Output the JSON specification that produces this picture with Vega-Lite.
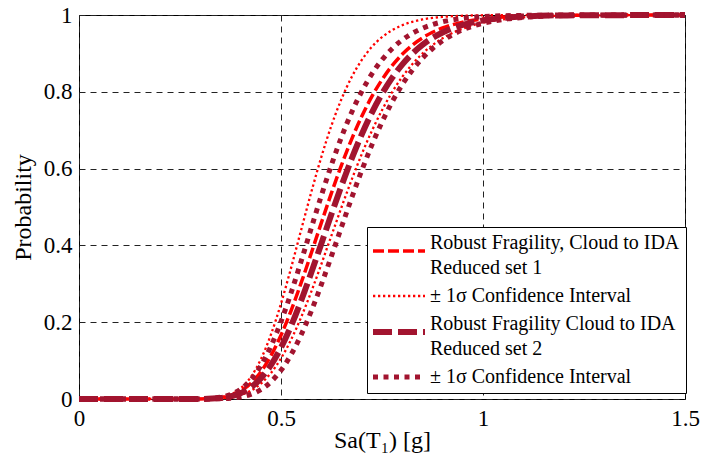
{
  "$schema": "https://vega.github.io/schema/vega-lite/v6.json",
  "width": 606,
  "height": 384,
  "autosize": {"type": "none"},
  "padding": {"left": 79, "top": 15, "right": 21, "bottom": 62},
  "background": "white",
  "config": {
    "font": "Liberation Serif",
    "view": {"stroke": "#000000", "strokeWidth": 1},
    "axis": {
      "labelFont": "Liberation Serif",
      "labelFontSize": 23,
      "labelColor": "#000000",
      "labelFlush": false,
      "titleFont": "Liberation Serif",
      "titleFontSize": 24,
      "titleFontWeight": "normal",
      "titleColor": "#000000",
      "domain": false,
      "ticks": false,
      "grid": true,
      "gridColor": "#222222",
      "gridDash": [6, 5],
      "gridWidth": 1
    },
    "style": {"guide-label": {"lineHeight": 25}},
    "legend": {
      "orient": "none",
      "legendX": 288,
      "legendY": 212,
      "strokeColor": "#000000",
      "fillColor": "#ffffff",
      "padding": 6,
      "symbolType": "M-1,0H4.2",
      "symbolSize": 400,
      "labelFont": "Liberation Serif",
      "labelFontSize": 20,
      "labelColor": "#000000",
      "labelLimit": 400,
      "labelOffset": 37,
      "rowPadding": 8
    }
  },
  "data": {
    "values": [
      {"s":"s1","c":"m","x":0,"p":0},{"s":"s1","c":"m","x":0.3,"p":0.0003},{"s":"s1","c":"m","x":0.35,"p":0.0038},{"s":"s1","c":"m","x":0.375,"p":0.0096},{"s":"s1","c":"m","x":0.4,"p":0.021},{"s":"s1","c":"m","x":0.425,"p":0.0406},{"s":"s1","c":"m","x":0.45,"p":0.0705},{"s":"s1","c":"m","x":0.475,"p":0.1124},{"s":"s1","c":"m","x":0.5,"p":0.166},{"s":"s1","c":"m","x":0.525,"p":0.2302},{"s":"s1","c":"m","x":0.55,"p":0.3029},{"s":"s1","c":"m","x":0.575,"p":0.3802},{"s":"s1","c":"m","x":0.6,"p":0.4594},{"s":"s1","c":"m","x":0.625,"p":0.5368},{"s":"s1","c":"m","x":0.65,"p":0.6099},{"s":"s1","c":"m","x":0.675,"p":0.6769},{"s":"s1","c":"m","x":0.7,"p":0.7363},{"s":"s1","c":"m","x":0.725,"p":0.7879},{"s":"s1","c":"m","x":0.75,"p":0.8315},{"s":"s1","c":"m","x":0.775,"p":0.868},{"s":"s1","c":"m","x":0.8,"p":0.8976},{"s":"s1","c":"m","x":0.825,"p":0.9214},{"s":"s1","c":"m","x":0.85,"p":0.9402},{"s":"s1","c":"m","x":0.875,"p":0.955},{"s":"s1","c":"m","x":0.9,"p":0.9663},{"s":"s1","c":"m","x":0.925,"p":0.9749},{"s":"s1","c":"m","x":0.95,"p":0.9815},{"s":"s1","c":"m","x":0.975,"p":0.9864},{"s":"s1","c":"m","x":1,"p":0.9901},{"s":"s1","c":"m","x":1.05,"p":0.9948},{"s":"s1","c":"m","x":1.1,"p":0.9973},{"s":"s1","c":"m","x":1.2,"p":0.9993},{"s":"s1","c":"m","x":1.5,"p":1},

      {"s":"c1","c":"lo","x":0,"p":0},{"s":"c1","c":"lo","x":0.3,"p":0.0002},{"s":"c1","c":"lo","x":0.35,"p":0.0039},{"s":"c1","c":"lo","x":0.375,"p":0.0114},{"s":"c1","c":"lo","x":0.4,"p":0.0275},{"s":"c1","c":"lo","x":0.425,"p":0.0568},{"s":"c1","c":"lo","x":0.45,"p":0.1031},{"s":"c1","c":"lo","x":0.475,"p":0.1675},{"s":"c1","c":"lo","x":0.5,"p":0.2486},{"s":"c1","c":"lo","x":0.525,"p":0.3416},{"s":"c1","c":"lo","x":0.55,"p":0.4408},{"s":"c1","c":"lo","x":0.575,"p":0.5387},{"s":"c1","c":"lo","x":0.6,"p":0.6308},{"s":"c1","c":"lo","x":0.625,"p":0.7126},{"s":"c1","c":"lo","x":0.65,"p":0.7818},{"s":"c1","c":"lo","x":0.675,"p":0.8385},{"s":"c1","c":"lo","x":0.7,"p":0.883},{"s":"c1","c":"lo","x":0.725,"p":0.917},{"s":"c1","c":"lo","x":0.75,"p":0.9422},{"s":"c1","c":"lo","x":0.775,"p":0.9604},{"s":"c1","c":"lo","x":0.8,"p":0.9733},{"s":"c1","c":"lo","x":0.825,"p":0.9823},{"s":"c1","c":"lo","x":0.85,"p":0.9884},{"s":"c1","c":"lo","x":0.875,"p":0.9925},{"s":"c1","c":"lo","x":0.9,"p":0.9951},{"s":"c1","c":"lo","x":0.925,"p":0.9969},{"s":"c1","c":"lo","x":0.95,"p":0.9981},{"s":"c1","c":"lo","x":0.975,"p":0.9988},{"s":"c1","c":"lo","x":1,"p":0.9993},{"s":"c1","c":"lo","x":1.05,"p":0.9997},{"s":"c1","c":"lo","x":1.1,"p":0.9999},{"s":"c1","c":"lo","x":1.2,"p":1},{"s":"c1","c":"lo","x":1.5,"p":1},

      {"s":"c1","c":"hi","x":0,"p":0},{"s":"c1","c":"hi","x":0.3,"p":0.0001},{"s":"c1","c":"hi","x":0.35,"p":0.0016},{"s":"c1","c":"hi","x":0.375,"p":0.0044},{"s":"c1","c":"hi","x":0.4,"p":0.0104},{"s":"c1","c":"hi","x":0.425,"p":0.0215},{"s":"c1","c":"hi","x":0.45,"p":0.04},{"s":"c1","c":"hi","x":0.475,"p":0.0677},{"s":"c1","c":"hi","x":0.5,"p":0.1058},{"s":"c1","c":"hi","x":0.525,"p":0.1546},{"s":"c1","c":"hi","x":0.55,"p":0.2133},{"s":"c1","c":"hi","x":0.575,"p":0.2797},{"s":"c1","c":"hi","x":0.6,"p":0.3516},{"s":"c1","c":"hi","x":0.625,"p":0.4259},{"s":"c1","c":"hi","x":0.65,"p":0.5},{"s":"c1","c":"hi","x":0.675,"p":0.5714},{"s":"c1","c":"hi","x":0.7,"p":0.638},{"s":"c1","c":"hi","x":0.725,"p":0.6985},{"s":"c1","c":"hi","x":0.75,"p":0.7521},{"s":"c1","c":"hi","x":0.775,"p":0.7989},{"s":"c1","c":"hi","x":0.8,"p":0.8387},{"s":"c1","c":"hi","x":0.825,"p":0.8718},{"s":"c1","c":"hi","x":0.85,"p":0.8993},{"s":"c1","c":"hi","x":0.875,"p":0.9216},{"s":"c1","c":"hi","x":0.9,"p":0.9394},{"s":"c1","c":"hi","x":0.925,"p":0.9535},{"s":"c1","c":"hi","x":0.95,"p":0.9646},{"s":"c1","c":"hi","x":0.975,"p":0.9733},{"s":"c1","c":"hi","x":1,"p":0.9799},{"s":"c1","c":"hi","x":1.05,"p":0.9888},{"s":"c1","c":"hi","x":1.1,"p":0.9939},{"s":"c1","c":"hi","x":1.2,"p":0.9982},{"s":"c1","c":"hi","x":1.5,"p":1},

      {"s":"s2","c":"m","x":0,"p":0},{"s":"s2","c":"m","x":0.3,"p":0.0002},{"s":"s2","c":"m","x":0.35,"p":0.0025},{"s":"s2","c":"m","x":0.375,"p":0.0066},{"s":"s2","c":"m","x":0.4,"p":0.015},{"s":"s2","c":"m","x":0.425,"p":0.0299},{"s":"s2","c":"m","x":0.45,"p":0.0537},{"s":"s2","c":"m","x":0.475,"p":0.0882},{"s":"s2","c":"m","x":0.5,"p":0.134},{"s":"s2","c":"m","x":0.525,"p":0.1905},{"s":"s2","c":"m","x":0.55,"p":0.2566},{"s":"s2","c":"m","x":0.575,"p":0.3292},{"s":"s2","c":"m","x":0.6,"p":0.4052},{"s":"s2","c":"m","x":0.625,"p":0.482},{"s":"s2","c":"m","x":0.65,"p":0.5561},{"s":"s2","c":"m","x":0.675,"p":0.6259},{"s":"s2","c":"m","x":0.7,"p":0.6894},{"s":"s2","c":"m","x":0.725,"p":0.7457},{"s":"s2","c":"m","x":0.75,"p":0.7947},{"s":"s2","c":"m","x":0.775,"p":0.8362},{"s":"s2","c":"m","x":0.8,"p":0.8708},{"s":"s2","c":"m","x":0.825,"p":0.8992},{"s":"s2","c":"m","x":0.85,"p":0.9221},{"s":"s2","c":"m","x":0.875,"p":0.9403},{"s":"s2","c":"m","x":0.9,"p":0.9546},{"s":"s2","c":"m","x":0.925,"p":0.9657},{"s":"s2","c":"m","x":0.95,"p":0.9743},{"s":"s2","c":"m","x":0.975,"p":0.9809},{"s":"s2","c":"m","x":1,"p":0.9858},{"s":"s2","c":"m","x":1.05,"p":0.9923},{"s":"s2","c":"m","x":1.1,"p":0.9959},{"s":"s2","c":"m","x":1.2,"p":0.9989},{"s":"s2","c":"m","x":1.5,"p":1},

      {"s":"c2","c":"lo","x":0,"p":0},{"s":"c2","c":"lo","x":0.3,"p":0.0003},{"s":"c2","c":"lo","x":0.35,"p":0.0044},{"s":"c2","c":"lo","x":0.375,"p":0.0115},{"s":"c2","c":"lo","x":0.4,"p":0.0255},{"s":"c2","c":"lo","x":0.425,"p":0.0496},{"s":"c2","c":"lo","x":0.45,"p":0.0865},{"s":"c2","c":"lo","x":0.475,"p":0.1372},{"s":"c2","c":"lo","x":0.5,"p":0.2016},{"s":"c2","c":"lo","x":0.525,"p":0.2767},{"s":"c2","c":"lo","x":0.55,"p":0.3594},{"s":"c2","c":"lo","x":0.575,"p":0.4452},{"s":"c2","c":"lo","x":0.6,"p":0.5301},{"s":"c2","c":"lo","x":0.625,"p":0.6101},{"s":"c2","c":"lo","x":0.65,"p":0.6829},{"s":"c2","c":"lo","x":0.675,"p":0.7469},{"s":"c2","c":"lo","x":0.7,"p":0.8012},{"s":"c2","c":"lo","x":0.725,"p":0.8466},{"s":"c2","c":"lo","x":0.75,"p":0.8832},{"s":"c2","c":"lo","x":0.775,"p":0.9123},{"s":"c2","c":"lo","x":0.8,"p":0.935},{"s":"c2","c":"lo","x":0.825,"p":0.9523},{"s":"c2","c":"lo","x":0.85,"p":0.9654},{"s":"c2","c":"lo","x":0.875,"p":0.9751},{"s":"c2","c":"lo","x":0.9,"p":0.9823},{"s":"c2","c":"lo","x":0.925,"p":0.9875},{"s":"c2","c":"lo","x":0.95,"p":0.9912},{"s":"c2","c":"lo","x":0.975,"p":0.9938},{"s":"c2","c":"lo","x":1,"p":0.9957},{"s":"c2","c":"lo","x":1.05,"p":0.998},{"s":"c2","c":"lo","x":1.1,"p":0.9991},{"s":"c2","c":"lo","x":1.2,"p":0.9998},{"s":"c2","c":"lo","x":1.5,"p":1},

      {"s":"c2","c":"hi","x":0,"p":0},{"s":"c2","c":"hi","x":0.3,"p":0},{"s":"c2","c":"hi","x":0.35,"p":0.0006},{"s":"c2","c":"hi","x":0.375,"p":0.002},{"s":"c2","c":"hi","x":0.4,"p":0.0053},{"s":"c2","c":"hi","x":0.425,"p":0.0121},{"s":"c2","c":"hi","x":0.45,"p":0.0245},{"s":"c2","c":"hi","x":0.475,"p":0.0448},{"s":"c2","c":"hi","x":0.5,"p":0.0748},{"s":"c2","c":"hi","x":0.525,"p":0.1157},{"s":"c2","c":"hi","x":0.55,"p":0.1675},{"s":"c2","c":"hi","x":0.575,"p":0.229},{"s":"c2","c":"hi","x":0.6,"p":0.2984},{"s":"c2","c":"hi","x":0.625,"p":0.3726},{"s":"c2","c":"hi","x":0.65,"p":0.4487},{"s":"c2","c":"hi","x":0.675,"p":0.5239},{"s":"c2","c":"hi","x":0.7,"p":0.5955},{"s":"c2","c":"hi","x":0.725,"p":0.6617},{"s":"c2","c":"hi","x":0.75,"p":0.7213},{"s":"c2","c":"hi","x":0.775,"p":0.7736},{"s":"c2","c":"hi","x":0.8,"p":0.8186},{"s":"c2","c":"hi","x":0.825,"p":0.8561},{"s":"c2","c":"hi","x":0.85,"p":0.8874},{"s":"c2","c":"hi","x":0.875,"p":0.9128},{"s":"c2","c":"hi","x":0.9,"p":0.9329},{"s":"c2","c":"hi","x":0.925,"p":0.949},{"s":"c2","c":"hi","x":0.95,"p":0.9615},{"s":"c2","c":"hi","x":0.975,"p":0.9712},{"s":"c2","c":"hi","x":1,"p":0.9786},{"s":"c2","c":"hi","x":1.05,"p":0.9884},{"s":"c2","c":"hi","x":1.1,"p":0.9938},{"s":"c2","c":"hi","x":1.2,"p":0.9984},{"s":"c2","c":"hi","x":1.5,"p":1}
    ]
  },
  "mark": {"type": "line", "interpolate": "monotone", "clip": false},
  "encoding": {
    "x": {
      "field": "x",
      "type": "quantitative",
      "scale": {"domain": [0, 1.5], "nice": false, "zero": false},
      "axis": {"values": [0, 0.5, 1, 1.5], "format": ".1~f", "labelPadding": 8, "title": "Sa(T₁) [g]", "titlePadding": -2}
    },
    "y": {
      "field": "p",
      "type": "quantitative",
      "scale": {"domain": [0, 1], "nice": false},
      "axis": {"values": [0, 0.2, 0.4, 0.6, 0.8, 1], "format": ".1~f", "labelPadding": 7, "title": "Probability", "titlePadding": 8}
    },
    "detail": {"field": "c", "type": "nominal"},
    "strokeWidth": {
      "condition": [
        {"test": "datum.s === 's1'", "value": 3.5},
        {"test": "datum.s === 'c1'", "value": 2.3},
        {"test": "datum.s === 's2'", "value": 6}
      ],
      "value": 5
    },
    "color": {
      "field": "s",
      "type": "nominal",
      "scale": {"domain": ["s1", "c1", "s2", "c2"], "range": ["#FF0000", "#FF0000", "#A2142F", "#A2142F"]},
      "legend": {
        "title": null,
        "labelExpr": "datum.value === 's1' ? ['Robust Fragility, Cloud to IDA', 'Reduced set 1'] : datum.value === 's2' ? ['Robust Fragility Cloud to IDA', 'Reduced set 2'] : '± 1σ Confidence Interval'",
        "encode": {
          "symbols": {
            "update": {
              "strokeWidth": {"signal": "datum.value === 's1' ? 3.5 : datum.value === 'c1' ? 2.3 : datum.value === 's2' ? 6 : 5"},
              "shape": {"signal": "datum.value === 's1' || datum.value === 's2' ? 'M-1,0.8H4.2' : 'M-1,0H4.2'"}
            }
          }
        }
      }
    },
    "strokeDash": {
      "field": "s",
      "type": "nominal",
      "scale": {"domain": ["s1", "c1", "s2", "c2"], "range": [[11, 4], [2.3, 2.7], [19, 6], [5, 5.5]]},
      "legend": {
        "title": null,
        "labelExpr": "datum.value === 's1' ? ['Robust Fragility, Cloud to IDA', 'Reduced set 1'] : datum.value === 's2' ? ['Robust Fragility Cloud to IDA', 'Reduced set 2'] : '± 1σ Confidence Interval'",
        "encode": {
          "symbols": {
            "update": {
              "strokeWidth": {"signal": "datum.value === 's1' ? 3.5 : datum.value === 'c1' ? 2.3 : datum.value === 's2' ? 6 : 5"},
              "shape": {"signal": "datum.value === 's1' || datum.value === 's2' ? 'M-1,0.8H4.2' : 'M-1,0H4.2'"}
            }
          }
        }
      }
    }
  }
}
